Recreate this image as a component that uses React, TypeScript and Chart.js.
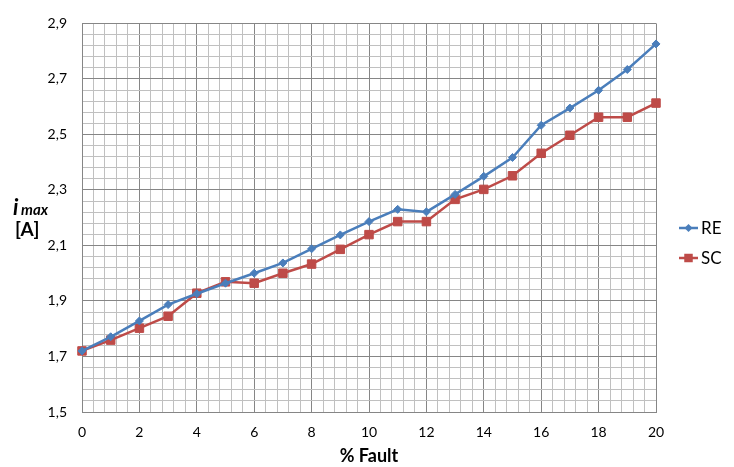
import React, { useEffect, useRef } from "react";
import { Chart, registerables } from "chart.js";

Chart.register(...registerables);

const faultPercent = [0, 1, 2, 3, 4, 5, 6, 7, 8, 9, 10, 11, 12, 13, 14, 15, 16, 17, 18, 19, 20];
const reValues = [1.72, 1.771, 1.828, 1.887, 1.926, 1.964, 2.0, 2.037, 2.088, 2.138, 2.186, 2.23, 2.221, 2.284, 2.349, 2.417, 2.533, 2.595, 2.659, 2.734, 2.826];
const scValues = [1.72, 1.759, 1.802, 1.845, 1.928, 1.969, 1.964, 2.0, 2.033, 2.086, 2.139, 2.186, 2.186, 2.266, 2.302, 2.351, 2.432, 2.497, 2.562, 2.562, 2.613];

const seriesLabels = ["RE", "SC"];
const seriesColors = ["#4A7EBB", "#BE4B48"];
const seriesMarkers = ["rectRot", "rect"];
const seriesMarkerRadius = [4, 6];

const xMin = 0;
const xMax = 20;
const xMajorStep = 2;
const xMinorStep = 0.4;
const yMin = 1.5;
const yMax = 2.9;
const yMajorStep = 0.2;
const yMinorStep = 0.04;

const xTitle = "% Fault";

const FONT = "Lato, 'Open Sans', sans-serif";
const MAJOR_GRID = "#868686";
const MINOR_GRID = "#C0C0C0";

function isMultiple(v: number, base: number, step: number) {
  const r = (v - base) / step;
  return Math.abs(r - Math.round(r)) < 1e-6;
}

const legendPlugin = {
  id: "customLegend",
  afterDraw(chart: any) {
    const ctx = chart.ctx;
    const ys = [228, 258];
    ctx.save();
    chart.data.datasets.forEach((ds: any, i: number) => {
      const y = ys[i];
      ctx.strokeStyle = ds.borderColor;
      ctx.lineWidth = 2.5;
      ctx.beginPath();
      ctx.moveTo(679, y);
      ctx.lineTo(698, y);
      ctx.stroke();
      ctx.fillStyle = ds.backgroundColor;
      const r = ds.pointRadius;
      if (ds.pointStyle === "rect") {
        const s = r * Math.SQRT1_2;
        ctx.fillRect(688.5 - s, y - s, 2 * s, 2 * s);
      } else {
        ctx.beginPath();
        ctx.moveTo(688.5 - r, y);
        ctx.lineTo(688.5, y - r);
        ctx.lineTo(688.5 + r, y);
        ctx.lineTo(688.5, y + r);
        ctx.closePath();
        ctx.fill();
      }
      ctx.fillStyle = "#000";
      ctx.font = `17px ${FONT}`;
      ctx.textAlign = "left";
      ctx.textBaseline = "middle";
      ctx.fillText(ds.label, 701, y + 1);
    });
    ctx.restore();
  },
};

const yTitlePlugin = {
  id: "yTitle",
  afterDraw(chart: any) {
    const ctx = chart.ctx;
    ctx.save();
    ctx.fillStyle = "#000";
    ctx.textAlign = "left";
    ctx.textBaseline = "alphabetic";
    ctx.font = `italic bold 22px ${FONT}`;
    ctx.fillText("i", 13, 215);
    ctx.font = `italic bold 15px ${FONT}`;
    ctx.fillText("max", 21, 215);
    ctx.font = `bold 19px ${FONT}`;
    ctx.fillText("[A]", 15, 236);
    ctx.restore();
  },
};

export default function App() {
  const canvasRef = useRef<HTMLCanvasElement | null>(null);

  useEffect(() => {
    if (!canvasRef.current) return;
    const valuesBySeries = [reValues, scValues];
    const chart = new Chart(canvasRef.current, {
      type: "line",
      data: {
        datasets: valuesBySeries.map((vals, i) => ({
          label: seriesLabels[i],
          data: faultPercent.map((x, j) => ({ x, y: vals[j] })),
          borderColor: seriesColors[i],
          backgroundColor: seriesColors[i],
          borderWidth: 2.5,
          pointStyle: seriesMarkers[i] as any,
          pointRadius: seriesMarkerRadius[i],
          pointBorderWidth: 1,
          pointBackgroundColor: seriesColors[i],
          pointBorderColor: seriesColors[i],
          tension: 0,
          clip: false as any,
        })),
      },
      options: {
        animation: false,
        responsive: false,
        devicePixelRatio: 1,
        layout: { padding: { top: 18, right: 78, left: 0, bottom: 0 } },
        plugins: {
          legend: { display: false },
          tooltip: { enabled: false },
        },
        scales: {
          x: {
            type: "linear",
            min: xMin,
            max: xMax,
            afterFit: (scale: any) => {
              scale.height = 55;
            },
            ticks: {
              stepSize: xMinorStep,
              autoSkip: false,
              maxRotation: 0,
              padding: 12,
              color: "#000",
              font: { family: FONT, size: 14 },
              callback: (v: any) => (isMultiple(Number(v), xMin, xMajorStep) ? String(Math.round(Number(v))) : ""),
            },
            grid: {
              drawTicks: false,
              lineWidth: 1,
              color: (c: any) => (c.tick && isMultiple(c.tick.value, xMin, xMajorStep) ? MAJOR_GRID : MINOR_GRID),
            },
            border: { display: true, color: MAJOR_GRID, width: 1 },
            title: {
              display: true,
              text: xTitle,
              color: "#000",
              font: { family: FONT, size: 18, weight: "bold" },
              padding: { top: 0, bottom: 0 },
            },
          },
          y: {
            type: "linear",
            min: yMin,
            max: yMax,
            afterFit: (scale: any) => {
              scale.width = 82;
            },
            ticks: {
              stepSize: yMinorStep,
              autoSkip: false,
              padding: 15,
              color: "#000",
              font: { family: FONT, size: 14 },
              callback: (v: any) =>
                isMultiple(Number(v), yMin, yMajorStep) ? Number(v).toFixed(1).replace(".", ",") : "",
            },
            grid: {
              drawTicks: false,
              lineWidth: 1,
              color: (c: any) => (c.tick && isMultiple(c.tick.value, yMin, yMajorStep) ? MAJOR_GRID : MINOR_GRID),
            },
            border: { display: true, color: MAJOR_GRID, width: 1 },
          },
        },
      },
      plugins: [legendPlugin, yTitlePlugin],
    });
    return () => chart.destroy();
  }, []);

  return (
    <div style={{ position: "absolute", left: 0, top: 0, width: 734, height: 467, background: "#fff" }}>
      <canvas ref={canvasRef} width={734} height={467} style={{ display: "block" }} />
    </div>
  );
}
